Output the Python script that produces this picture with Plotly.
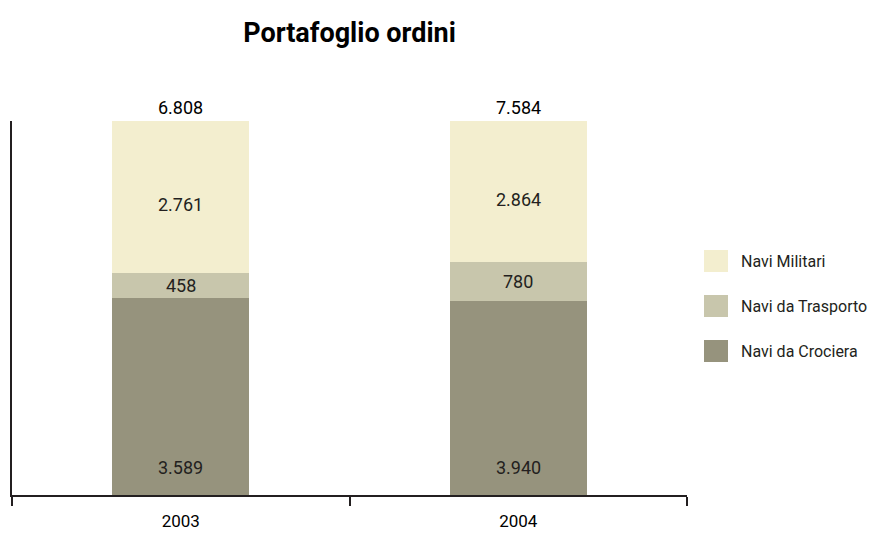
import plotly.graph_objects as go

years = ["2003", "2004"]
crociera = [3589, 3940]
trasporto = [458, 780]
militari = [2761, 2864]
series_names = ["Navi da Crociera", "Navi da Trasporto", "Navi Militari"]
series_values = [crociera, trasporto, militari]
colors = ["#96937D", "#C8C6AC", "#F3EECF"]

FONT = "Roboto, sans-serif"
TXT = "#231F20"


def fmt(v):
    return f"{v:,}".replace(",", ".")


fig = go.Figure()
for name, vals, col in zip(series_names, series_values, colors):
    fig.add_trace(go.Bar(
        x=years, y=vals, name=name, marker=dict(color=col, line=dict(width=0)),
        showlegend=False,
    ))

annotations = []
totals = [sum(v[i] for v in series_values) for i in range(len(years))]
for i, yr in enumerate(years):
    tot = totals[i]
    cum = 0.0
    for k, vals in enumerate(series_values):
        pct = vals[i] / tot * 100
        mid = cum + pct / 2
        if k == 0:
            y, ys = 0, 28
        elif k == 2:
            y, ys = mid, -8
        else:
            y, ys = mid, 0
        annotations.append(dict(x=i, y=y, yshift=ys, text=fmt(vals[i]), showarrow=False,
                                xref="x", yref="y", font=dict(size=18, color=TXT, family=FONT)))
        cum += pct
    annotations.append(dict(x=i, y=100, yshift=14, text=fmt(tot), showarrow=False,
                            xref="x", yref="y",
                            font=dict(size=18, color="#000000", family=FONT),
                            yanchor="middle"))

# manual legend
shapes = []
leg_rows = [(261, "Navi Militari", colors[2]), (306, "Navi da Trasporto", colors[1]),
            (351, "Navi da Crociera", colors[0])]
W, H = 889, 538
for yc, name, col in leg_rows:
    shapes.append(dict(type="rect", xref="paper", yref="paper",
                       x0=(704 - 12) / 675, x1=(728 - 12) / 675,
                       y0=(495 - (yc + 11)) / 374, y1=(495 - (yc - 11)) / 374,
                       fillcolor=col, line=dict(width=0)))
    annotations.append(dict(xref="paper", yref="paper", x=(739 - 12) / 675, y=(495 - yc) / 374,
                            xanchor="left", yanchor="middle", text=name, showarrow=False,
                            font=dict(size=16, color=TXT, family=FONT)))

fig.update_layout(
    barmode="stack", barnorm="percent", bargap=0.594,
    width=W, height=H,
    margin=dict(l=12, r=202, t=121, b=43, autoexpand=False),
    paper_bgcolor="white", plot_bgcolor="white",
    title=dict(text="<b>Portafoglio ordini</b>", x=0.5, xref="paper", y=1 - 33 / 538,
               yref="container", xanchor="center", yanchor="middle",
               font=dict(size=27, color="#000000", family=FONT)),
    font=dict(family=FONT, color=TXT),
    annotations=annotations, shapes=shapes,
    xaxis=dict(type="category", showline=True, linecolor="#231F20", linewidth=2,
               ticks="outside", tickson="boundaries", ticklen=9, tickwidth=2,
               tickcolor="#231F20", showgrid=False, ticklabelstandoff=10, automargin=False,
               tickfont=dict(size=17, color="#000000", family=FONT)),
    yaxis=dict(range=[0, 100], showline=True, linecolor="#231F20", linewidth=2,
               showgrid=False, zeroline=False, showticklabels=False, ticks="",
               automargin=False),
)

fig.write_html("out.html", config={"displayModeBar": False},
               post_script="document.body.style.margin='0px';")
